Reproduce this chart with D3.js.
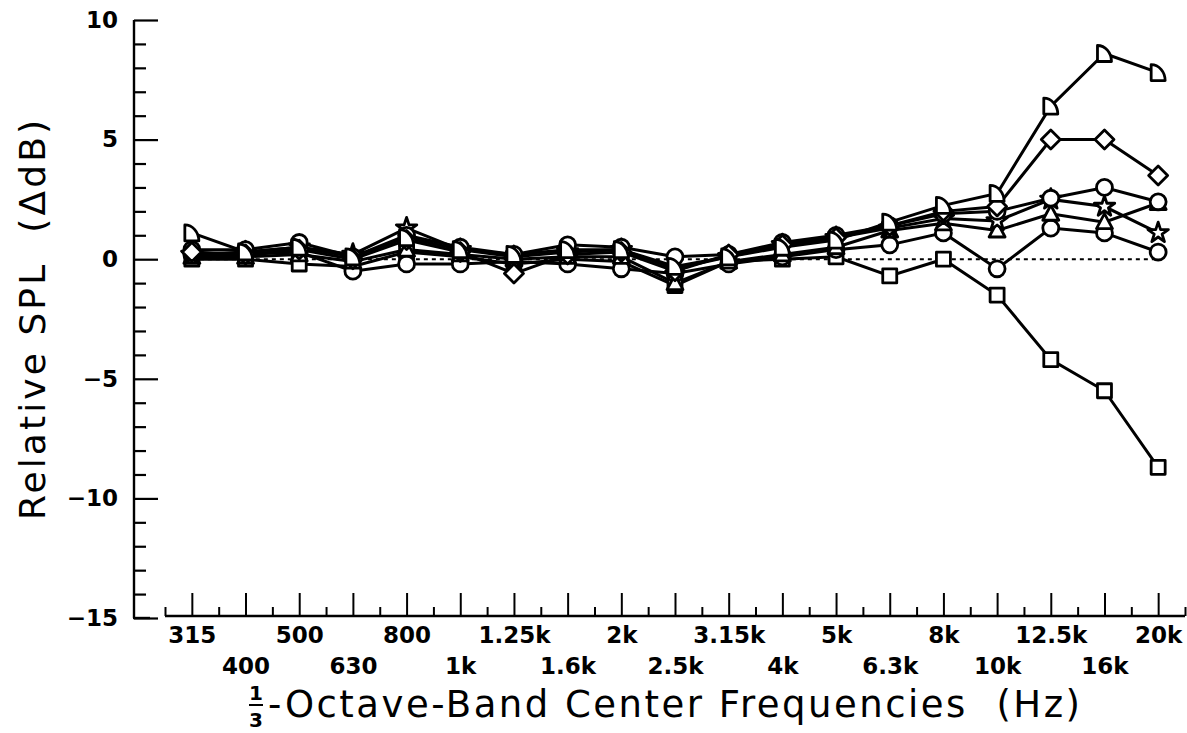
<!DOCTYPE html>
<html>
<head>
<meta charset="utf-8">
<script src="https://cdn.jsdelivr.net/npm/d3@7"></script>
<style>
  html, body { margin: 0; padding: 0; background: #fff; }
  svg { display: block; }
  text { font-family: "DejaVu Sans", "Liberation Sans", sans-serif; fill: #000; }
</style>
</head>
<body>
<svg id="chart" width="1187" height="733"></svg>
<script>
// ---- data ----
const bands = ["315","400","500","630","800","1k","1.25k","1.6k","2k","2.5k",
               "3.15k","4k","5k","6.3k","8k","10k","12.5k","16k","20k"];
const yTicks = [10, 5, 0, -5, -10, -15];

const seriesHalfDisc = [1.1, 0.3, 0.5, 0.1, 0.9, 0.4, 0.2, 0.4, 0.4, -0.3, 0.1, 0.5, 0.8, 1.55, 2.25, 2.75, 6.4, 8.6, 7.8];
const seriesDiamond  = [0.3, 0.2, 0.4, 0.0, 0.8, 0.3, -0.6, 0.2, 0.3, -0.5, 0.2, 0.6, 0.9, 1.4, 2.0, 2.2, 5.0, 5.0, 3.5];
const seriesCircleA  = [0.4, 0.4, 0.7, 0.1, 1.0, 0.5, 0.2, 0.6, 0.5, 0.1, 0.2, 0.7, 1.0, 1.4, 1.9, 2.0, 2.55, 3.0, 2.4];
const seriesStar     = [0.2, 0.3, 0.5, 0.2, 1.3, 0.4, 0.1, 0.3, 0.4, -0.4, 0.1, 0.6, 0.9, 1.3, 1.7, 1.6, 2.5, 2.2, 1.1];
const seriesTriangle = [0.1, 0.1, 0.2, -0.1, 0.4, 0.2, 0.0, 0.1, 0.1, -1.0, -0.1, 0.2, 0.5, 1.2, 1.5, 1.2, 1.9, 1.55, 2.35];
const seriesCircleB  = [0.2, 0.2, 0.3, -0.5, -0.2, -0.2, -0.1, -0.2, -0.4, -0.6, -0.2, 0.1, 0.4, 0.6, 1.1, -0.4, 1.3, 1.1, 0.3];
const seriesSquare   = [0.0, 0.0, -0.2, -0.3, 0.3, 0.1, -0.2, 0.0, -0.1, -1.1, -0.1, 0.0, 0.1, -0.7, 0.0, -1.5, -4.2, -5.5, -8.7];

// ---- marker shapes ----
const shapes = {
  halfDisc: "M-7,8 L-7,-8 A14,16 0 0 1 7,8 Z",
  diamond: "M0,-9.5 L9.5,0 L0,9.5 L-9.5,0 Z",
  circle: d3.symbol(d3.symbolCircle, 200)(),
  star: d3.symbol(d3.symbolStar, 130)(),
  triangle: "M0,-8.5 L8,6.5 L-8,6.5 Z",
  square: "M-7,-7 L7,-7 L7,7 L-7,7 Z"
};

const series = [
  { values: seriesSquare,   shape: "square" },
  { values: seriesCircleB,  shape: "circle" },
  { values: seriesTriangle, shape: "triangle" },
  { values: seriesStar,     shape: "star" },
  { values: seriesCircleA,  shape: "circle" },
  { values: seriesDiamond,  shape: "diamond" },
  { values: seriesHalfDisc, shape: "halfDisc" }
];

const svg = d3.select("#chart");

const x = d3.scaleLinear().domain([-0.5, bands.length - 0.5]).range([165, 1185]);
const y = d3.scaleLinear().domain([-15, 10]).range([618, 20]);

// ---- y axis ----
const yAxisX = 134;
const gyMinor = svg.append("g").attr("transform", `translate(${yAxisX},0)`);
gyMinor.call(d3.axisLeft(y).tickValues(d3.range(-15, 11, 1).filter(v => v % 5 !== 0)).tickSize(-12).tickFormat(""))
  .call(g => g.select(".domain").remove());
const gy = svg.append("g").attr("transform", `translate(${yAxisX},0)`);
gy.call(d3.axisLeft(y).tickValues(yTicks).tickSize(-24).tickPadding(16).tickFormat(d3.format("d")))
  .call(g => g.selectAll(".domain").remove());
svg.selectAll("g line").attr("stroke", "#000").attr("stroke-width", 2.2);
gy.selectAll("text").attr("font-size", 23).attr("font-weight", "bold").attr("font-family", "DejaVu Sans, sans-serif");
gy.append("line").attr("x1", 0).attr("x2", 0).attr("y1", y(10)).attr("y2", y(-15))
  .attr("stroke", "#000").attr("stroke-width", 2.4);
gy.append("line").attr("x1", -1).attr("x2", 16).attr("y1", y(-15)).attr("y2", y(-15))
  .attr("stroke", "#000").attr("stroke-width", 2.4);

// ---- x axis ----
const xAxisY = 616;
const gxMinor = svg.append("g").attr("transform", `translate(0,${xAxisY})`);
gxMinor.call(d3.axisBottom(x).tickValues(d3.range(-0.5, bands.length, 1)).tickSize(-9).tickFormat(""))
  .call(g => g.select(".domain").remove());
const gx = svg.append("g").attr("transform", `translate(0,${xAxisY})`);
gx.call(d3.axisBottom(x).tickValues(d3.range(0, bands.length)).tickSize(-23).tickPadding(11)
          .tickFormat(i => bands[i]))
  .call(g => g.selectAll(".domain").remove());
gxMinor.selectAll("line").attr("stroke", "#000").attr("stroke-width", 2);
gx.selectAll("line").attr("stroke", "#000").attr("stroke-width", 2);
gx.selectAll("text").attr("font-size", 23).attr("font-weight", "bold").attr("font-family", "DejaVu Sans, sans-serif")
  .attr("dy", (i) => (i % 2 === 1 ? "2.05em" : "0.71em"));
gx.append("line").attr("x1", x(-0.5)).attr("x2", x(bands.length - 0.5)).attr("y1", 0).attr("y2", 0)
  .attr("stroke", "#000").attr("stroke-width", 2.4);

// ---- zero reference line ----
svg.append("line")
  .attr("x1", x(0)).attr("x2", x(bands.length - 1))
  .attr("y1", y(0)).attr("y2", y(0))
  .attr("stroke", "#000").attr("stroke-width", 2).attr("stroke-dasharray", "4,4");

// ---- series lines ----
const line = d3.line().x((d, i) => x(i)).y(d => y(d));
svg.append("g").selectAll("path").data(series).join("path")
  .attr("d", s => line(s.values))
  .attr("fill", "none").attr("stroke", "#000").attr("stroke-width", 3);

// ---- markers ----
series.forEach(s => {
  svg.append("g").selectAll("path").data(s.values).join("path")
    .attr("transform", (d, i) => `translate(${x(i)},${y(d)})`)
    .attr("d", shapes[s.shape])
    .attr("fill", "#fff").attr("stroke", "#000").attr("stroke-width", 2.8)
    .attr("stroke-linejoin", "round");
});

// ---- axis titles ----
svg.append("text")
  .attr("transform", `translate(45,320) rotate(-90)`)
  .attr("text-anchor", "middle")
  .attr("font-size", 36)
  .attr("textLength", 400).attr("lengthAdjust", "spacing")
  .style("white-space", "pre")
  .text("Relative SPL  (\u0394dB)");

const xt = svg.append("g");
xt.append("text").attr("x", 256).attr("y", 700).attr("text-anchor", "middle")
  .attr("font-size", 20).attr("font-weight", "bold").text("1");
xt.append("line").attr("x1", 249).attr("x2", 263).attr("y1", 705).attr("y2", 705)
  .attr("stroke", "#000").attr("stroke-width", 2);
xt.append("text").attr("x", 256).attr("y", 727).attr("text-anchor", "middle")
  .attr("font-size", 20).attr("font-weight", "bold").text("3");
xt.append("text").attr("x", 268).attr("y", 717)
  .attr("font-size", 37)
  .attr("textLength", 812).attr("lengthAdjust", "spacing")
  .style("white-space", "pre")
  .text("-Octave-Band Center Frequencies  (Hz)");
</script>
</body>
</html>
